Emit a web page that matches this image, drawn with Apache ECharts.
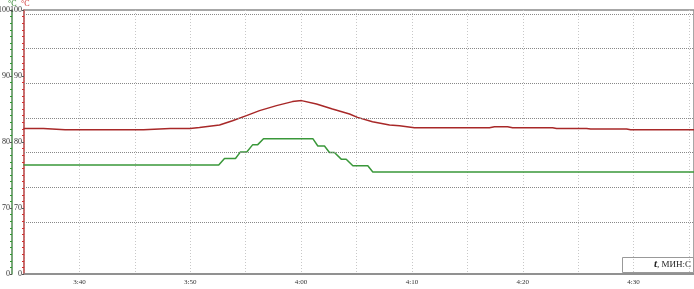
<!DOCTYPE html>
<html>
<head>
<meta charset="utf-8">
<script src="https://cdn.jsdelivr.net/npm/echarts@6/dist/echarts.min.js"></script>
<style>html,body{margin:0;padding:0;background:#fff}#c{width:694px;height:289px}</style>
</head>
<body>
<div id="c"></div>
<script>
// time in minutes after 3:00, values in °C
var redTimes = [34.95, 36.75, 38.71, 45.78, 48.19, 49.99, 50.83, 52.64, 53.81, 55.07, 56.25, 57.78, 59.22, 60.04, 61.39, 62.83, 64.37, 65.09, 66.44, 67.98, 68.88, 70.23, 77.0, 77.45, 78.63, 79.08, 82.69, 83.05, 85.76, 86.12, 89.37, 89.73, 95.45];
var redValues = [82.05, 82.05, 81.85, 81.85, 82.05, 82.05, 82.2, 82.57, 83.22, 83.99, 84.75, 85.51, 86.12, 86.27, 85.77, 85.0, 84.25, 83.73, 83.07, 82.57, 82.46, 82.16, 82.16, 82.31, 82.31, 82.16, 82.16, 82.05, 82.05, 81.96, 81.96, 81.85, 81.85];
var greenTimes = [34.95, 52.57, 53.09, 54.08, 54.53, 55.10, 55.64, 56.09, 56.61, 61.06, 61.51, 62.11, 62.56, 63.01, 63.62, 64.07, 64.67, 66.02, 66.47, 95.45];
var greenValues = [76.5, 76.5, 77.5, 77.5, 78.5, 78.5, 79.6, 79.6, 80.5, 80.5, 79.4, 79.4, 78.4, 78.4, 77.4, 77.4, 76.4, 76.4, 75.45, 75.45];
var yTickLabels = {100: '100', 90: '90', 80: '80', 70: '70', 60: '0'};
var gridLevels = [99.4, 94.15, 88.9, 83.65, 78.4, 73.15, 67.9];
var axisUnit = '°C';
var xUnitLabel = 'МИН:С';

function pairs(xs, ys) { return xs.map(function (x, i) { return [x, ys[i]]; }); }
function fmtTime(v) {
  if (Math.abs(v % 10) > 1e-6) return '';
  var h = 3 + Math.floor(v / 60), m = Math.round(v % 60);
  return h + ':' + (m < 10 ? '0' + m : m);
}
var serif = 'Liberation Serif';
function yAxisCfg(color, tickColor, offset) {
  return {
    type: 'value', position: 'left', offset: offset, min: 60, max: 100, interval: 10,
    axisLine: { show: true, lineStyle: { color: color, width: 1.5 } },
    axisTick: { show: true, length: 2, lineStyle: { color: '#555' } },
    minorTick: { show: true, splitNumber: 10, length: 2, lineStyle: { color: tickColor, width: 1 } },
    axisLabel: { margin: 2, fontFamily: serif, fontSize: 8, color: '#333',
      formatter: function (v) { return yTickLabels[v] !== undefined ? yTickLabels[v] : ''; } },
    splitLine: { show: false }
  };
}
var chart = echarts.init(document.getElementById('c'));
chart.setOption({
  animation: false,
  backgroundColor: '#fff',
  grid: { left: 24, right: 0, top: 10, bottom: 15, outerBoundsMode: 'none', containLabel: false,
    show: true, borderColor: '#8a8a8a', borderWidth: 1.5, backgroundColor: 'transparent' },
  xAxis: {
    type: 'value', min: 35, max: 95.45, interval: 5,
    axisLine: { lineStyle: { color: '#8a8a8a', width: 1.5 } },
    axisTick: { show: false },
    axisLabel: { fontFamily: serif, fontSize: 7, color: '#333', margin: 5, formatter: fmtTime, showMaxLabel: false },
    splitLine: { show: true, lineStyle: { color: '#c8c8c8', type: [1, 2], width: 1 } }
  },
  yAxis: [yAxisCfg('#d05a5a', '#d03030', 0), yAxisCfg('#4f8a4f', '#2e9a2e', 12)],
  series: [
    {
      type: 'line', yAxisIndex: 0, data: [], silent: true,
      markLine: { silent: true, symbol: 'none', label: { show: false },
        lineStyle: { color: '#888', type: [1, 1], width: 1 },
        data: gridLevels.map(function (v) { return { yAxis: v }; }) }
    },
    { type: 'line', yAxisIndex: 0, data: pairs(redTimes, redValues), showSymbol: false,
      lineStyle: { color: '#a82828', width: 1.5 }, itemStyle: { color: '#a82828' } },
    { type: 'line', yAxisIndex: 1, data: pairs(greenTimes, greenValues), showSymbol: false,
      lineStyle: { color: '#3a983a', width: 1.5 }, itemStyle: { color: '#3a983a' } }
  ],
  graphic: [
    { type: 'text', id: 'unitR', left: 21, top: 0, z: 100, style: { text: axisUnit, fill: '#d03030', fontFamily: serif, fontSize: 8 } },
    { type: 'text', id: 'unitG', left: 8, top: 0, z: 100, style: { text: axisUnit, fill: '#1f7a1f', fontFamily: serif, fontSize: 8 } },
    { type: 'rect', id: 'boxX', left: 622, top: 257, shape: { width: 71, height: 15 },
      style: { fill: '#fff', stroke: '#999', lineWidth: 1 } },
    { type: 'text', id: 'labX', right: 3, top: 259,
      style: { text: '{t|t}{n|, ' + xUnitLabel + '}',
        rich: { t: { fontFamily: serif, fontSize: 11, fontStyle: 'italic', fontWeight: 'bold', fill: '#222' },
                n: { fontFamily: serif, fontSize: 9, fill: '#222' } } } }
  ]
});
</script>
</body>
</html>
